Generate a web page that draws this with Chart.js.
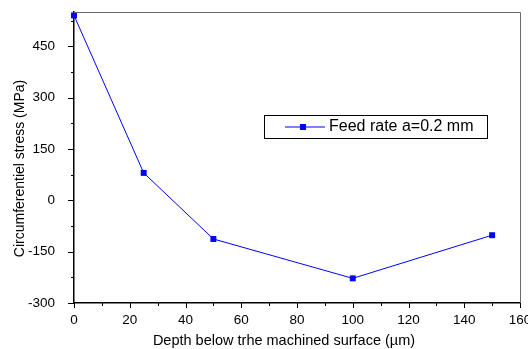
<!DOCTYPE html>
<html>
<head>
<meta charset="utf-8">
<script src="https://cdn.jsdelivr.net/npm/chart.js@4"></script>
<style>
html,body{margin:0;padding:0;background:#fff;}
canvas{display:block;}
</style>
</head>
<body>
<canvas id="c" width="528" height="349"></canvas>
<script>
const depthValues = [0, 25, 50, 100, 150];
const stressValues = [540, 80, -113, -228, -102];
const seriesLabel = 'Feed rate a=0.2 mm';
const xTickValues = [0, 20, 40, 60, 80, 100, 120, 140, 160];
const xMinorValues = [10, 30, 50, 70, 90, 110, 130, 150];
const yTickValues = [-300, -150, 0, 150, 300, 450];
const yMinorValues = [-225, -75, 75, 225, 375, 525];
const xTitle = 'Depth below trhe machined surface (µm)';
const yTitle = 'Circumferentiel stress (MPa)';

const FONT = '"Liberation Sans", Arial, sans-serif';
const BLUE = '#0000FF';

const framePlugin = {
  id: 'frame',
  afterDraw(chart) {
    const {ctx, chartArea: a, scales} = chart;
    const xs = scales.x, ys = scales.y;
    ctx.save();
    ctx.strokeStyle = '#6a6a6a';
    ctx.lineWidth = 1;
    ctx.beginPath();
    ctx.moveTo(a.left, a.top + 0.5);
    ctx.lineTo(a.right + 0.5, a.top + 0.5);
    ctx.lineTo(a.right + 0.5, a.bottom);
    ctx.stroke();
    ctx.strokeStyle = '#000';
    ctx.lineWidth = 1;
    ctx.beginPath();
    xTickValues.forEach(v => { const p = Math.round(xs.getPixelForValue(v)) + 0.5; ctx.moveTo(p, a.bottom); ctx.lineTo(p, a.bottom + 5); });
    xMinorValues.forEach(v => { const p = Math.round(xs.getPixelForValue(v)) + 0.5; ctx.moveTo(p, a.bottom); ctx.lineTo(p, a.bottom + 3); });
    yTickValues.forEach(v => { const p = Math.round(ys.getPixelForValue(v)) + 0.5; ctx.moveTo(a.left, p); ctx.lineTo(a.left - 6, p); });
    yMinorValues.forEach(v => { const p = Math.round(ys.getPixelForValue(v)) + 0.5; ctx.moveTo(a.left, p); ctx.lineTo(a.left - 3, p); });
    ctx.stroke();
    ctx.fillStyle = '#000';
    ctx.font = '14.5px ' + FONT;
    ctx.textAlign = 'center';
    ctx.textBaseline = 'middle';
    ctx.fillText(xTitle, (a.left + a.right) / 2 - 13, a.bottom + 38);
    ctx.save();
    ctx.translate(20.5, (a.top + a.bottom) / 2 + 11);
    ctx.rotate(-Math.PI / 2);
    ctx.font = '14px ' + FONT;
    ctx.fillText(yTitle, 0, 0);
    ctx.restore();
    const lx = a.left + 190, ly = a.top + 103, lw = 223, lh = 23;
    ctx.strokeStyle = '#000';
    ctx.lineWidth = 1;
    ctx.strokeRect(lx + 0.5, ly + 0.5, lw, lh);
    const cy = ly + lh / 2 + 0.5;
    ctx.strokeStyle = BLUE;
    ctx.beginPath();
    ctx.moveTo(lx + 21, cy);
    ctx.lineTo(lx + 61, cy);
    ctx.stroke();
    ctx.fillStyle = BLUE;
    ctx.fillRect(lx + 36, cy - 3, 6, 6);
    ctx.fillStyle = '#000';
    ctx.font = '16px ' + FONT;
    ctx.textAlign = 'left';
    ctx.fillText(chart.data.datasets[0].label, lx + 65, cy);
    ctx.restore();
  }
};

new Chart(document.getElementById('c'), {
  type: 'line',
  data: {
    datasets: [{
      label: seriesLabel,
      data: depthValues.map((x, i) => ({x: x, y: stressValues[i]})),
      borderColor: BLUE,
      backgroundColor: BLUE,
      borderWidth: 1,
      pointStyle: 'rect',
      pointRadius: 4.2,
      pointBorderWidth: 0,
      pointHoverRadius: 4.2,
      tension: 0,
      clip: false
    }]
  },
  options: {
    responsive: false,
    animation: false,
    devicePixelRatio: 1,
    layout: {autoPadding: false, padding: {top: 12, right: 8, left: 0, bottom: 0}},
    plugins: {legend: {display: false}, tooltip: {enabled: false}},
    scales: {
      x: {
        type: 'linear',
        min: 0, max: 160,
        afterFit(s) { s.height = 46; s.paddingLeft = 0; s.paddingRight = 0; },
        afterBuildTicks(s) { s.ticks = xTickValues.map(v => ({value: v})); },
        grid: {display: false},
        border: {display: true, color: '#000', width: 1.5},
        ticks: {color: '#000', font: {family: FONT, size: 13.5}, padding: 1, maxRotation: 0, autoSkip: false}
      },
      y: {
        type: 'linear',
        min: -300, max: 550,
        afterFit(s) { s.width = 74; s.paddingTop = 0; s.paddingBottom = 0; },
        afterBuildTicks(s) { s.ticks = yTickValues.map(v => ({value: v})); },
        grid: {display: false},
        border: {display: true, color: '#000', width: 1.5},
        ticks: {color: '#000', font: {family: FONT, size: 13.5}, padding: 11, autoSkip: false}
      }
    }
  },
  plugins: [framePlugin]
});
</script>
</body>
</html>
